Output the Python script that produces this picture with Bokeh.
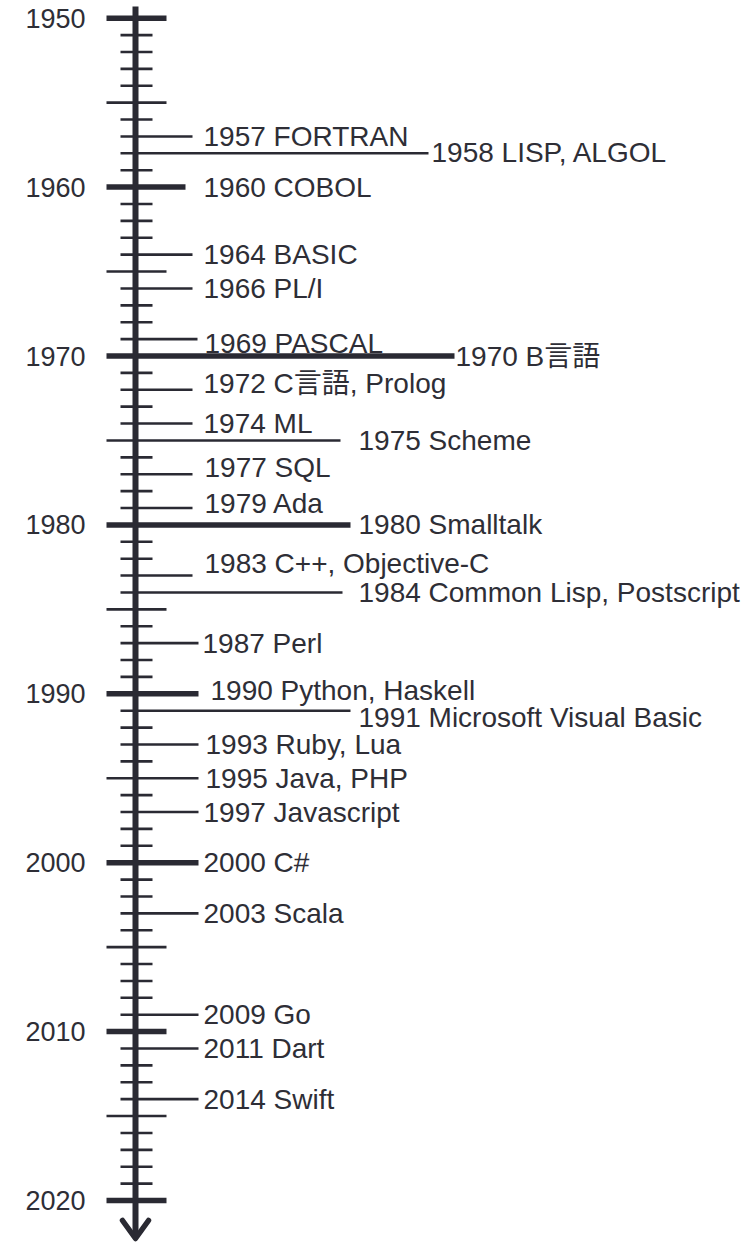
from bokeh.plotting import figure
from bokeh.models import Range1d, ColumnDataSource
from bokeh.core.properties import value
from bokeh.embed import file_html
from bokeh.resources import INLINE

# ---------------- data ----------------
start_year = 1950
end_year = 2020
decade_labels = ["1950", "1960", "1970", "1980", "1990", "2000", "2010", "2020"]

event_years = [1957, 1958, 1960, 1964, 1966, 1969, 1970, 1972, 1974, 1975,
               1977, 1979, 1980, 1983, 1984, 1987, 1990, 1991, 1993, 1995,
               1997, 2000, 2003, 2009, 2011, 2014]
event_names = ["FORTRAN", "LISP, ALGOL", "COBOL", "BASIC", "PL/I", "PASCAL",
               "B言語", "C言語, Prolog", "ML", "Scheme", "SQL", "Ada",
               "Smalltalk", "C++, Objective-C", "Common Lisp, Postscript",
               "Perl", "Python, Haskell", "Microsoft Visual Basic",
               "Ruby, Lua", "Java, PHP", "Javascript", "C#", "Scala", "Go",
               "Dart", "Swift"]

# ---------------- layout (pixels) ----------------
leader_end_px = [192, 428, 185, 192, 192, 197, 454, 192, 192, 340,
                 192, 192, 350, 192, 342, 198, 198, 350, 198, 198,
                 198, 198, 198, 198, 198, 198]
label_x_px = [203, 431, 203, 203, 203, 204, 455, 203, 203, 358,
              204, 204, 358, 204, 358, 202, 210, 358, 205, 205,
              203, 203, 203, 203, 203, 203]
label_dy_px = [0, -1, 0, 0, 0, 4, 0, -6, 0, 0,
               -7, -5, 0, -12, 0, 0, -3, 7, 0, 0,
               0, 0, 0, 0, 0, 0]

W, H = 745, 1243
PX_PER_YEAR = 16.89
Y0_SCREEN = 17.7          # screen y of 1950
AXIS_X = 135
LINE_COLOR = "#2a2a33"
TEXT_COLOR = "#2e2e36"
FONT = "Liberation Sans, Arial, Noto Sans CJK JP"

def yr(screen_y):
    return start_year + (screen_y - Y0_SCREEN) / PX_PER_YEAR

top_year = yr(0)
bottom_year = yr(H)

p = figure(width=W, height=H, output_backend="svg", toolbar_location=None,
           x_range=Range1d(0, W), y_range=Range1d(bottom_year, top_year),
           min_border=0)
p.axis.visible = False
p.grid.visible = False
p.outline_line_color = None
p.background_fill_color = "white"
p.border_fill_color = "white"

ev_end = dict(zip(event_years, leader_end_px))

# ticks
groups = {"major": ([], [], [], 5.5), "half": ([], [], [], 2.6), "minor": ([], [], [], 2.6)}
for y in range(start_year, end_year + 1):
    if y % 10 == 0:
        g, x0, x1 = "major", 106, 166
    elif y % 5 == 0:
        g, x0, x1 = "half", 106, 166
    else:
        g, x0, x1 = "minor", 120, 152
    if y in ev_end:
        x1 = max(x1, ev_end[y])
    groups[g][0].append(x0)
    groups[g][1].append(x1)
    groups[g][2].append(y)
for name, (x0s, x1s, ys, lw) in groups.items():
    p.segment(x0=x0s, y0=ys, x1=x1s, y1=ys, line_width=lw, line_color=LINE_COLOR)

# axis line and arrow
tip_screen = 1240
p.segment(x0=[AXIS_X], y0=[yr(6)], x1=[AXIS_X], y1=[yr(tip_screen - 3)],
          line_width=6, line_color=LINE_COLOR)
p.line(x=[AXIS_X - 13, AXIS_X, AXIS_X + 13],
       y=[yr(tip_screen - 20), yr(tip_screen - 2), yr(tip_screen - 20)],
       line_width=5.5, line_color=LINE_COLOR, line_join="round", line_cap="round")

# decade labels
dec_years = [int(s) for s in decade_labels]
p.text(x=[85] * len(dec_years), y=dec_years, text=decade_labels,
       text_font=value(FONT), text_font_size="27px", text_color=TEXT_COLOR,
       text_align="right", text_baseline="middle")

# event labels
src = ColumnDataSource(dict(
    x=label_x_px,
    y=[y + d / PX_PER_YEAR for y, d in zip(event_years, label_dy_px)],
    t=[f"{y} {n}" for y, n in zip(event_years, event_names)],
))
p.text(x="x", y="y", text="t", source=src,
       text_font=value(FONT), text_font_size="28px", text_color=TEXT_COLOR,
       text_align="left", text_baseline="middle")

open("out.html", "w").write(file_html(p, INLINE))
